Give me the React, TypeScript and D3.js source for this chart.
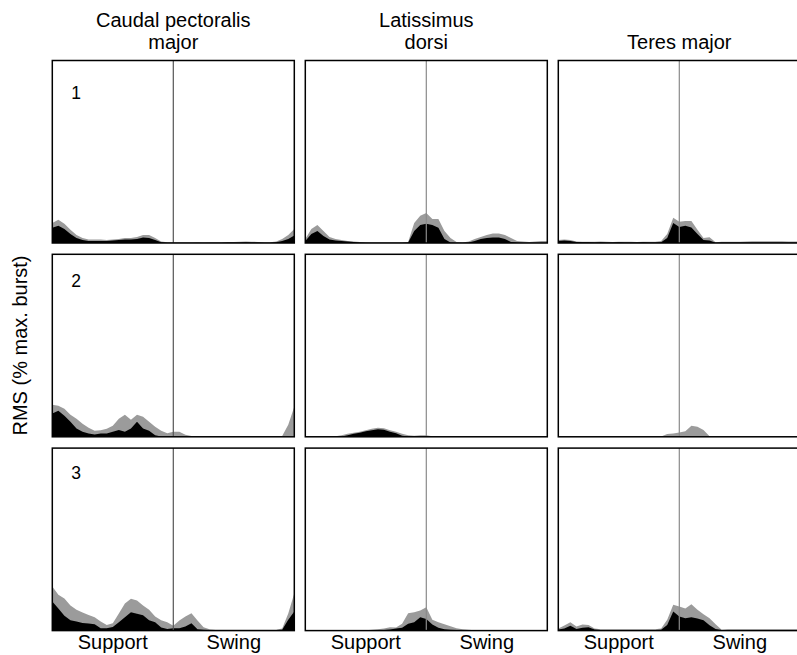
import React from 'react';
import * as d3 from 'd3';

// ---------- text / categories ----------
const muscleTitles: string[][] = [
  ['Caudal pectoralis', 'major'],
  ['Latissimus', 'dorsi'],
  ['Teres major'],
];
const speedLabels = ['1', '2', '3'];
const phaseLabels = ['Support', 'Swing'];
const yAxisLabel = 'RMS (% max. burst)';
const swingOnsetPct = 50;

// stride phase (% of stride) at which the traces were sampled
const stridePct = [
  0, 2.5, 5, 7.5, 10, 12.5, 15, 17.5, 20, 22.5, 25, 27.5, 30, 32.5, 35, 37.5, 40, 42.5, 45, 47.5,
  50, 52.5, 55, 57.5, 60, 62.5, 65, 67.5, 70, 72.5, 75, 77.5, 80, 82.5, 85, 87.5, 90, 92.5, 95, 97.5, 100,
];

// ---------- RMS (% max burst): mean + SD (grey) and mean (black) ----------
// speed 1
const cpm1Sd = [11, 12.7, 10.5, 7.2, 4.4, 2.8, 1.9, 1.9, 1.9, 1.7, 1.9, 2.2, 2.8, 2.8, 3.3, 4.4, 4.4, 2.8, 0.8, 0.4, 0.3, 0.3, 0.3, 0.3, 0.4, 0.3, 0.4, 0.4, 0.4, 0.6, 0.6, 0.7, 0.8, 0.7, 0.6, 0.4, 0.4, 0.8, 2.2, 4.4, 7.7];
const cpm1Mean = [8.3, 9.4, 7.7, 5, 2.8, 1.7, 1.1, 1.1, 1.1, 1.1, 1.4, 1.7, 1.9, 1.9, 2.2, 3, 2.8, 1.7, 0.4, 0.2, 0.2, 0.2, 0.2, 0.2, 0.2, 0.2, 0.2, 0.2, 0.2, 0.3, 0.3, 0.3, 0.4, 0.3, 0.3, 0.2, 0.2, 0.4, 1.1, 2.2, 4.1];
const ld1Sd = [2.2, 7.7, 9.9, 6.6, 3.3, 2.2, 1.7, 1.1, 0.8, 0.6, 0.4, 0.3, 0.3, 0.3, 0.3, 0.3, 0.3, 0.6, 11, 14.9, 16.5, 13.2, 13.2, 6.6, 2.8, 0.6, 0.3, 0.8, 2.2, 3.3, 4.4, 5.2, 5.2, 4.4, 2.8, 1.1, 0.8, 0.6, 0.8, 1.1, 1.1];
const ld1Mean = [1.1, 5, 6.6, 3.9, 1.9, 1.4, 1.1, 0.8, 0.6, 0.3, 0.2, 0.2, 0.2, 0.2, 0.2, 0.2, 0.2, 0.3, 6.6, 9.9, 10.5, 9.9, 8.3, 2.2, 0.3, 0.2, 0.2, 0.3, 1.1, 2.2, 2.8, 3, 3, 2.2, 0.6, 0.3, 0.2, 0.2, 0.2, 0.2, 0.2];
const tm1Sd = [1.7, 1.9, 1.7, 0.8, 0.7, 0.7, 0.7, 0.8, 0.7, 0.6, 0.7, 0.7, 0.7, 0.6, 0.7, 0.7, 0.7, 1.1, 5, 13.8, 11.6, 12.1, 12.1, 7.2, 2.8, 3.1, 0.4, 0.7, 0.7, 0.7, 0.7, 0.8, 1, 1, 0.9, 1, 0.9, 1, 0.8, 0.8, 0.7];
const tm1Mean = [1.1, 1.4, 1.1, 0.6, 0.4, 0.4, 0.3, 0.4, 0.3, 0.3, 0.4, 0.3, 0.3, 0.3, 0.4, 0.3, 0.3, 0.4, 2.8, 11, 8.8, 9.4, 8.5, 5, 1.7, 1.4, 0.2, 0.3, 0.3, 0.3, 0.3, 0.3, 0.3, 0.3, 0.3, 0.3, 0.3, 0.3, 0.3, 0.3, 0.3];
// speed 2
const cpm2Sd = [17.6, 17, 15.4, 12.1, 9.9, 7.2, 5, 3.3, 3.6, 4.4, 6, 9.9, 12.1, 9.4, 12.1, 11, 8.3, 5.5, 3.3, 1.9, 2.8, 2.8, 1.1, 0.4, 0.4, 0.3, 0.4, 0.3, 0.3, 0.3, 0.4, 0.3, 0.3, 0.3, 0.3, 0.3, 0.3, 0.3, 0.4, 6.6, 16.5];
const cpm2Mean = [12.7, 14.3, 11.6, 8.3, 4.6, 2.8, 1.8, 1.3, 1.8, 1.8, 2.8, 3.7, 2.8, 4.6, 8.3, 4.6, 3.3, 0.9, 0.2, 0.1, 0.1, 0.1, 0.1, 0.1, 0.1, 0.1, 0.1, 0.1, 0.1, 0.1, 0.1, 0.1, 0.1, 0.1, 0.1, 0.1, 0.1, 0.1, 0.1, 0, 0];
const ld2Sd = [0.3, 0.3, 0.3, 0.3, 0.3, 0.3, 0.8, 1.7, 2.2, 2.8, 3.6, 4.4, 5, 4.7, 3.6, 2.8, 1.7, 0.8, 0.6, 0.8, 0.8, 0.3, 0.3, 0.3, 0.3, 0.3, 0.3, 0.3, 0.3, 0.3, 0.3, 0.3, 0.3, 0.3, 0.3, 0.3, 0.3, 0.3, 0.3, 0.3, 0.3];
const ld2Mean = [0.1, 0.1, 0.1, 0.1, 0.1, 0.1, 0.1, 0.8, 1.7, 2.2, 3, 3.6, 4.1, 3.9, 2.8, 1.9, 0.6, 0.2, 0.2, 0.2, 0.3, 0.1, 0.1, 0.1, 0.1, 0.1, 0.1, 0.1, 0.1, 0.1, 0.1, 0.1, 0.1, 0.1, 0.1, 0.1, 0.1, 0.1, 0.1, 0.1, 0.1];
const tm2Sd = [0.2, 0.2, 0.2, 0.2, 0.2, 0.2, 0.2, 0.2, 0.2, 0.2, 0.2, 0.2, 0.2, 0.2, 0.2, 0.2, 0.2, 0.2, 1.5, 1.8, 2.4, 3.1, 6, 5.5, 3.7, 0.3, 0.2, 0.2, 0.2, 0.2, 0.2, 0.2, 0.2, 0.2, 0.2, 0.2, 0.2, 0.2, 0.2, 0.2, 0.2];
const tm2Mean = [0.1, 0.1, 0.1, 0.1, 0.1, 0.1, 0.1, 0.1, 0.1, 0.1, 0.1, 0.1, 0.1, 0.1, 0.1, 0.1, 0.1, 0.1, 0.1, 0.1, 0.1, 0.1, 0.1, 0.1, 0.1, 0.1, 0.1, 0.1, 0.1, 0.1, 0.1, 0.1, 0.1, 0.1, 0.1, 0.1, 0.1, 0.1, 0.1, 0.1, 0.1];
// speed 3
const cpm3Sd = [24.2, 19.6, 17.6, 13.8, 11.4, 9.9, 8.6, 7.3, 5, 3.1, 4, 9.4, 14.9, 17.4, 16.5, 13.8, 11.4, 7.7, 5.7, 4.6, 2.6, 5.5, 7.7, 9.5, 5.5, 1.8, 0.7, 0.4, 0.4, 0.4, 0.4, 0.4, 0.4, 0.4, 0.4, 0.4, 0.4, 0.4, 1.1, 9.4, 20.4];
const cpm3Mean = [16, 12.1, 8.1, 5.7, 5, 4.2, 3.9, 3.5, 1.3, 1.3, 2, 4.6, 7.3, 10.1, 9.2, 8.4, 5.7, 4.6, 1.7, 0.9, 1.3, 1.3, 2.2, 4, 0.7, 0.4, 0.3, 0.3, 0.3, 0.3, 0.3, 0.3, 0.3, 0.3, 0.3, 0.3, 0.3, 0.3, 0.4, 5.9, 10.5];
const ld3Sd = [0.2, 0.2, 0.2, 0.2, 0.2, 0.2, 0.2, 0.2, 0.2, 0.2, 0.2, 0.4, 0.8, 1.1, 1.9, 1.7, 3.7, 9.5, 10.1, 11, 12.8, 5.9, 4.6, 3.5, 2.4, 1.3, 0.7, 0.4, 0.2, 0.2, 0.2, 0.2, 0.2, 0.2, 0.2, 0.2, 0.2, 0.2, 0.2, 0.2, 0.2];
const ld3Mean = [0.1, 0.1, 0.1, 0.1, 0.1, 0.1, 0.1, 0.1, 0.1, 0.1, 0.1, 0.1, 0.1, 0.3, 0.6, 1.1, 1.5, 3.7, 4.6, 7.3, 6.4, 3.3, 1.5, 0.7, 0.5, 0.3, 0.1, 0.1, 0.1, 0.1, 0.1, 0.1, 0.1, 0.1, 0.1, 0.1, 0.1, 0.1, 0.1, 0.1, 0.1];
const tm3Sd = [1.1, 2.8, 4.6, 2.2, 3.3, 3.1, 1.1, 0.7, 0.7, 0.7, 0.7, 0.7, 0.7, 0.7, 0.7, 0.7, 0.7, 1.1, 5.9, 14.1, 13.2, 12.1, 14.5, 11.4, 9, 6.8, 3.5, 0.4, 0.7, 0.7, 0.7, 0.7, 0.7, 0.7, 0.7, 0.7, 0.7, 0.7, 0.7, 0.7, 0.7];
const tm3Mean = [0.6, 1.1, 2.6, 0.9, 1.5, 1.8, 0.6, 0.3, 0.3, 0.3, 0.3, 0.3, 0.3, 0.3, 0.3, 0.3, 0.3, 0.4, 3.1, 10.5, 7.7, 6.8, 7.3, 6.6, 5.7, 2.9, 0.9, 0.3, 0.3, 0.3, 0.3, 0.3, 0.3, 0.3, 0.3, 0.3, 0.3, 0.3, 0.3, 0.3, 0.3];

// grid of panels: rows = speed, cols = muscle
const panelSd = [
  [cpm1Sd, ld1Sd, tm1Sd],
  [cpm2Sd, ld2Sd, tm2Sd],
  [cpm3Sd, ld3Sd, tm3Sd],
];
const panelMean = [
  [cpm1Mean, ld1Mean, tm1Mean],
  [cpm2Mean, ld2Mean, tm2Mean],
  [cpm3Mean, ld3Mean, tm3Mean],
];

// ---------- layout ----------
const W = 797;
const H = 655;
const left = 52.3;
const top = 60.5;
const panelW = 242;
const panelH = 182.5;
const gapX = 11;
const gapY = 11.3;
const font = "'Liberation Sans', Arial, Helvetica, sans-serif";
const numberOffsets = [38.5, 33, 31.3];
const vlineColors = ['#555', '#8a8a8a', '#8a8a8a'];

export default function App() {
  const x = d3.scaleLinear().domain([0, 100]).range([0, panelW]);
  const y = d3.scaleLinear().domain([0, 100]).range([panelH, 0]);
  const area = d3
    .area<number>()
    .x((_, i) => x(stridePct[i]))
    .y0(y(0))
    .y1((d) => y(d));

  const panels: React.ReactNode[] = [];
  for (let r = 0; r < 3; r++) {
    for (let c = 0; c < 3; c++) {
      const px = left + c * (panelW + gapX);
      const py = top + r * (panelH + gapY);
      panels.push(
        <g key={`p${r}${c}`} transform={`translate(${px},${py})`}>
          <path d={area(panelSd[r][c]) || ''} fill="#9b9b9b" />
          <path d={area(panelMean[r][c]) || ''} fill="#000" />
          <line
            x1={x(swingOnsetPct)}
            x2={x(swingOnsetPct)}
            y1={0}
            y2={panelH}
            stroke={vlineColors[c]}
            strokeWidth={1.2}
          />
          <rect x={0} y={0} width={panelW} height={panelH} fill="none" stroke="#000" strokeWidth={1.5} />
          {c === 0 && (
            <text x={19} y={numberOffsets[r]} fontSize={17.5} fontFamily={font} fill="#000">
              {speedLabels[r]}
            </text>
          )}
        </g>
      );
    }
  }

  return (
    <svg
      width={W}
      height={H}
      style={{ position: 'absolute', left: 0, top: 0, background: '#fff' }}
      fontFamily={font}
    >
      <rect x={0} y={0} width={W} height={H} fill="#fff" />
      {muscleTitles.map((lines, c) => {
        const cx = left + c * (panelW + gapX) + panelW / 2;
        return (
          <text key={`t${c}`} textAnchor="middle" fontSize={20} fill="#000">
            {lines.map((ln, i) => (
              <tspan key={i} x={cx} y={48.5 - (lines.length - 1 - i) * 22}>
                {ln}
              </tspan>
            ))}
          </text>
        );
      })}
      {panels}
      {[0, 1, 2].map((c) =>
        phaseLabels.map((lab, k) => {
          const px = left + c * (panelW + gapX);
          const cx = px + x(swingOnsetPct * k + swingOnsetPct / 2 + 0 * k);
          return (
            <text key={`b${c}${k}`} x={cx} y={649.3} textAnchor="middle" fontSize={20} fill="#000">
              {lab}
            </text>
          );
        })
      )}
      <text
        transform={`translate(27,345.5) rotate(-90)`}
        textAnchor="middle"
        fontSize={20}
        fill="#000"
      >
        {yAxisLabel}
      </text>
    </svg>
  );
}
